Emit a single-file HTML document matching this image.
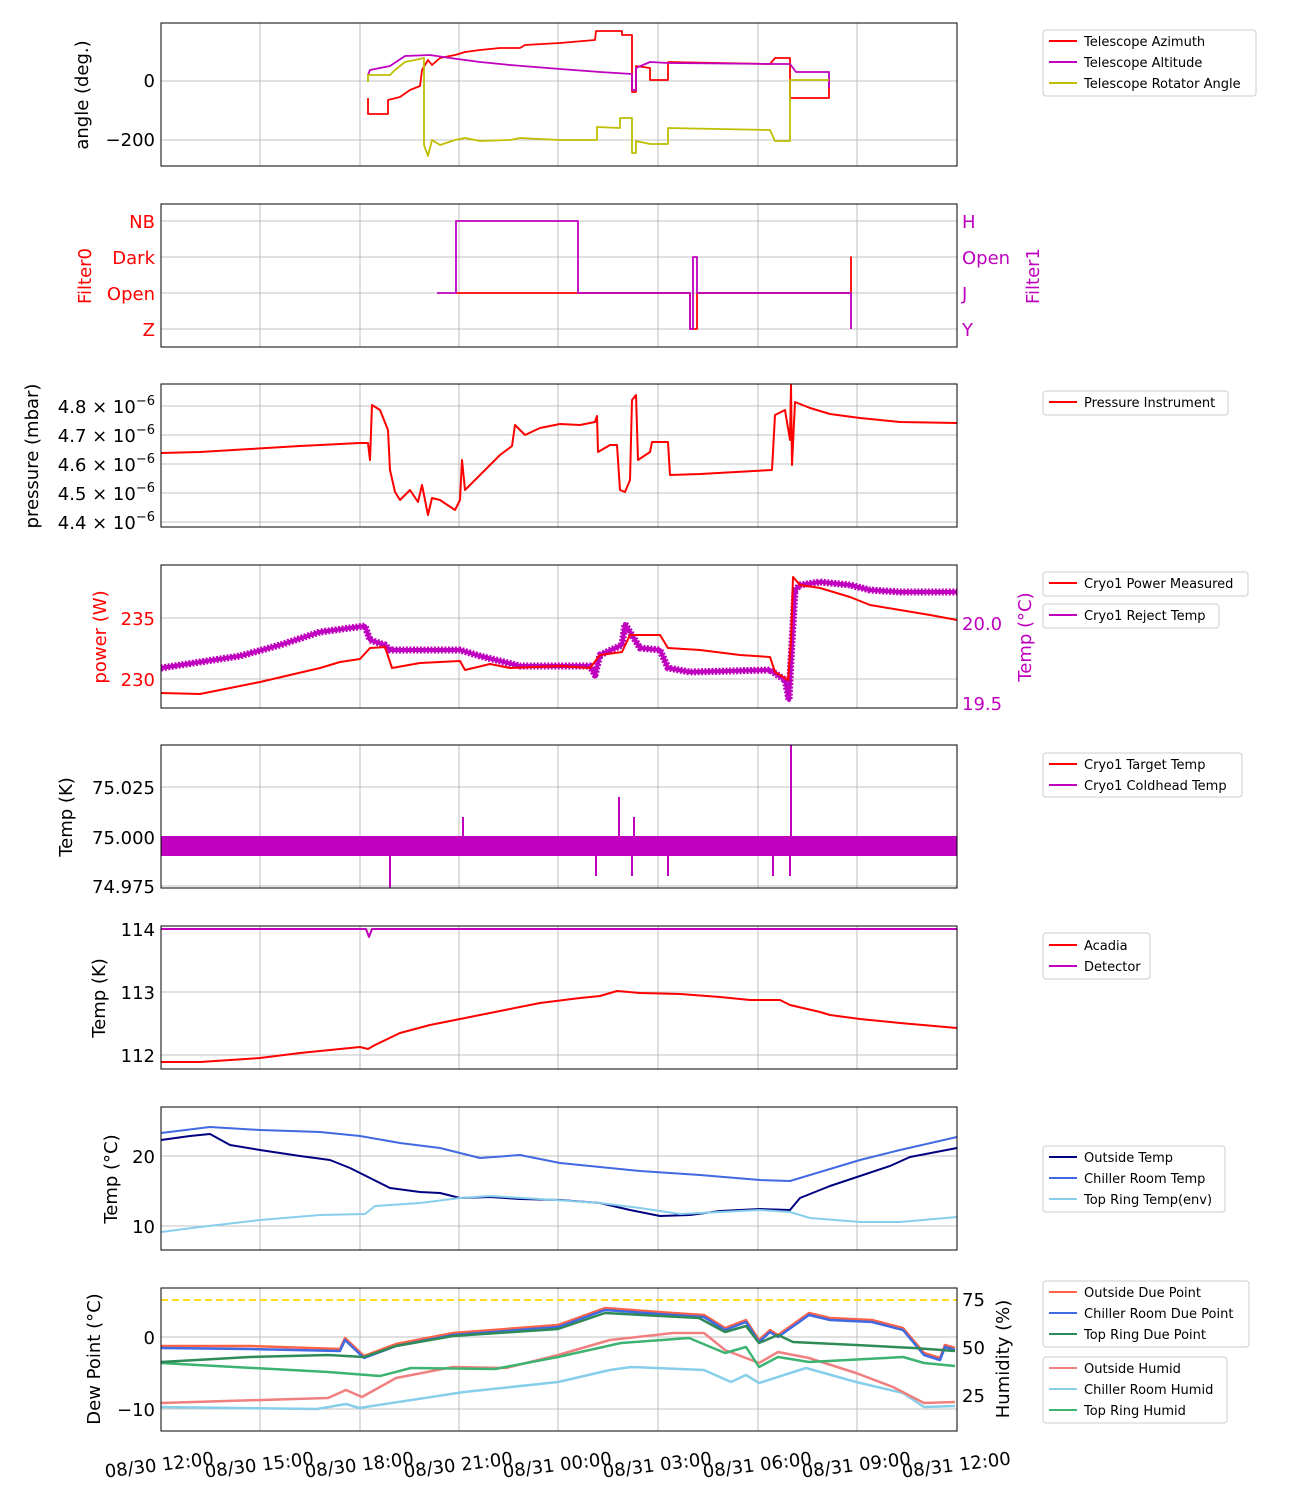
<!DOCTYPE html>
<html><head><meta charset="utf-8"><style>
body{margin:0;background:#fff}
svg{display:block;font-family:"DejaVu Sans","Liberation Sans",sans-serif}
.ax{fill:none;stroke:#000;stroke-width:1}
.g{stroke:#b0b0b0;stroke-width:0.8}
.t{font-size:18px}
.l{font-size:13px}
.lb{fill:#fff;stroke:#ccc;stroke-width:1;rx:3}
polyline{fill:none;stroke-linejoin:round}
</style></head><body>
<svg width="1300" height="1500" viewBox="0 0 1300 1500" xmlns="http://www.w3.org/2000/svg">
<defs>
<g id="vg"><path class="g" d="M260,0V143M360,0V143M459,0V143M558,0V143M658,0V143M758,0V143M857,0V143"/></g>
</defs>

<!-- Panel 1 -->
<g transform="translate(0,23)"><use href="#vg"/></g>
<path class="g" d="M161,81H957M161,140H957"/>
<polyline stroke="#ff0000" stroke-width="1.8" points="368,98 368,114 388,114 388,100 400,97 410,90 420,86 422,70 428,60 432,65 440,58 455,55 465,52 480,50 500,48 520,48 525,45 560,43 595,40 596,31 622,31 622,35 632,35 632,92 636,92 636,66 650,68 650,80 668,80 668,62 770,64 775,58 790,58 790,98 829,98 829,80"/>
<polyline stroke="#bf00bf" stroke-width="1.8" points="368,75 370,70 390,66 405,56 430,55 450,58 480,62 510,65 560,69 600,72 632,74 632,90 636,90 636,68 650,62 668,63 775,64 790,64 796,72 829,72 829,88"/>
<polyline stroke="#bfbf00" stroke-width="1.8" points="368,82 368,75 390,75 395,70 405,62 415,60 424,58 424,145 428,156 432,140 440,145 455,140 465,138 480,141 510,140 520,138 560,140 597,140 597,127 620,128 620,118 632,118 632,153 636,153 636,141 650,144 668,144 668,128 770,130 775,141 790,141 790,80 829,80"/>
<rect class="ax" x="161" y="23" width="796" height="143"/>
<text class="t" x="155" y="87" text-anchor="end">0</text>
<text class="t" x="155" y="146" text-anchor="end">−200</text>
<text class="t" transform="translate(88,95) rotate(-90)" text-anchor="middle">angle (deg.)</text>
<rect class="lb" x="1043" y="30" width="213" height="66"/>
<path stroke="#ff0000" stroke-width="2" d="M1049,41H1077"/><text class="l" x="1084" y="46">Telescope Azimuth</text>
<path stroke="#bf00bf" stroke-width="2" d="M1049,62H1077"/><text class="l" x="1084" y="67">Telescope Altitude</text>
<path stroke="#bfbf00" stroke-width="2" d="M1049,83H1077"/><text class="l" x="1084" y="88">Telescope Rotator Angle</text>

<!-- Panel 2 -->
<g transform="translate(0,204)"><use href="#vg"/></g>
<path class="g" d="M161,221H957M161,257H957M161,293H957M161,329H957"/>
<polyline stroke="#ff0000" stroke-width="1.8" points="456,293 690,293 690,329 697,329 697,293 851,293 851,257 851,293"/>
<polyline stroke="#bf00bf" stroke-width="1.8" points="437,293 456,293 456,221 578,221 578,293 690,293 690,329 693,329 693,257 697,257 697,293 851,293 851,329"/>
<rect class="ax" x="161" y="204" width="796" height="143"/>
<g class="t" fill="#ff0000" text-anchor="end"><text x="155" y="228">NB</text><text x="155" y="264">Dark</text><text x="155" y="300">Open</text><text x="155" y="336">Z</text></g>
<g class="t" fill="#bf00bf"><text x="962" y="228">H</text><text x="962" y="264">Open</text><text x="962" y="300">J</text><text x="962" y="336">Y</text></g>
<text class="t" fill="#ff0000" transform="translate(91,276) rotate(-90)" text-anchor="middle">Filter0</text>
<text class="t" fill="#bf00bf" transform="translate(1039,276) rotate(-90)" text-anchor="middle">Filter1</text>

<!-- Panel 3 -->
<g transform="translate(0,384)"><use href="#vg"/></g>
<path class="g" d="M161,406H957M161,435H957M161,464H957M161,493H957M161,522H957"/>
<polyline stroke="#ff0000" stroke-width="2" points="161,453 200,452 250,449 300,446 360,443 368,443 370,460 372,405 380,410 388,430 390,470 395,492 400,500 410,490 418,502 422,485 428,515 432,498 440,500 455,510 460,500 462,460 465,490 475,480 490,465 500,455 512,446 515,425 525,435 540,428 560,424 580,425 595,422 597,416 598,452 610,445 617,445 620,490 625,492 630,480 632,400 636,395 638,460 650,452 652,442 668,442 670,475 700,474 772,470 775,415 785,410 790,440 791,385 792,465 795,402 810,408 830,414 860,418 900,422 957,423"/>
<rect class="ax" x="161" y="384" width="796" height="143"/>
<g class="t" text-anchor="end">
<text x="155" y="413">4.8 × 10<tspan font-size="13" dy="-8">−6</tspan></text>
<text x="155" y="442">4.7 × 10<tspan font-size="13" dy="-8">−6</tspan></text>
<text x="155" y="471">4.6 × 10<tspan font-size="13" dy="-8">−6</tspan></text>
<text x="155" y="500">4.5 × 10<tspan font-size="13" dy="-8">−6</tspan></text>
<text x="155" y="529">4.4 × 10<tspan font-size="13" dy="-8">−6</tspan></text>
</g>
<text class="t" transform="translate(38,456) rotate(-90)" text-anchor="middle">pressure (mbar)</text>
<rect class="lb" x="1043" y="391" width="185" height="24"/>
<path stroke="#ff0000" stroke-width="2" d="M1049,402H1077"/><text class="l" x="1084" y="407">Pressure Instrument</text>

<!-- Panel 4 -->
<g transform="translate(0,565)"><use href="#vg"/></g>
<path class="g" d="M161,618H957M161,679H957"/>
<polyline stroke="#bf00bf" stroke-width="7" stroke-dasharray="2,1.5" points="161,668 200,662 240,656 280,645 320,632 365,626 370,640 385,645 390,650 420,650 460,650 480,656 520,666 590,666 595,675 600,655 622,645 625,624 635,640 640,648 660,650 668,668 690,672 770,670 785,680 789,700 791,660 795,590 800,585 820,582 850,585 870,590 900,592 957,592"/>
<polyline stroke="#bf00bf" stroke-width="4" points="161,668 200,662 240,656 280,645 320,632 365,626 370,640 385,645 390,650 420,650 460,650 480,656 520,666 590,666 595,675 600,655 622,645 625,624 635,640 640,648 660,650 668,668 690,672 770,670 785,680 789,700 791,660 795,590 800,585 820,582 850,585 870,590 900,592 957,592"/>
<polyline stroke="#ff0000" stroke-width="2" points="161,693 200,694 230,688 260,682 290,675 320,668 340,662 360,659 370,648 385,647 392,668 420,663 460,661 465,670 490,664 510,668 560,666 590,668 600,655 622,652 630,635 660,635 668,648 700,650 740,655 770,657 775,672 788,680 791,640 793,577 800,585 820,588 850,597 870,605 900,610 930,615 957,620"/>
<rect class="ax" x="161" y="565" width="796" height="143"/>
<g class="t" fill="#ff0000" text-anchor="end"><text x="155" y="625">235</text><text x="155" y="686">230</text></g>
<g class="t" fill="#bf00bf"><text x="962" y="630">20.0</text><text x="962" y="710">19.5</text></g>
<text class="t" fill="#ff0000" transform="translate(106,637) rotate(-90)" text-anchor="middle">power (W)</text>
<text class="t" fill="#bf00bf" transform="translate(1031,637) rotate(-90)" text-anchor="middle">Temp (°C)</text>
<rect class="lb" x="1043" y="572" width="205" height="24"/>
<path stroke="#ff0000" stroke-width="2" d="M1049,583H1077"/><text class="l" x="1084" y="588">Cryo1 Power Measured</text>
<rect class="lb" x="1043" y="604" width="176" height="24"/>
<path stroke="#bf00bf" stroke-width="2" d="M1049,615H1077"/><text class="l" x="1084" y="620">Cryo1 Reject Temp</text>

<!-- Panel 5 -->
<g transform="translate(0,745)"><use href="#vg"/></g>
<path class="g" d="M161,787H957M161,837H957M161,886H957"/>
<rect x="161" y="836" width="796" height="20" fill="#bf00bf"/>
<path stroke="#bf00bf" stroke-width="2" d="M390,850V888M463,840V817M596,850V876M619,840V797M632,850V876M634,840V817M668,850V876M773,850V876M790,850V876M791,840V745"/>
<rect class="ax" x="161" y="745" width="796" height="143"/>
<g class="t" text-anchor="end"><text x="155" y="794">75.025</text><text x="155" y="844">75.000</text><text x="155" y="893">74.975</text></g>
<text class="t" transform="translate(72,817) rotate(-90)" text-anchor="middle">Temp (K)</text>
<rect class="lb" x="1043" y="753" width="199" height="44"/>
<path stroke="#ff0000" stroke-width="2" d="M1049,764H1077"/><text class="l" x="1084" y="769">Cryo1 Target Temp</text>
<path stroke="#bf00bf" stroke-width="2" d="M1049,785H1077"/><text class="l" x="1084" y="790">Cryo1 Coldhead Temp</text>

<!-- Panel 6 -->
<g transform="translate(0,926)"><use href="#vg"/></g>
<path class="g" d="M161,929H957M161,992H957M161,1055H957"/>
<polyline stroke="#bf00bf" stroke-width="2" points="161,929 366,929 369,937 372,929 957,929"/>
<polyline stroke="#ff0000" stroke-width="2" points="161,1062 200,1062 260,1058 300,1053 360,1047 368,1049 375,1045 400,1033 430,1025 460,1019 500,1011 540,1003 580,998 600,996 617,991 640,993 680,994 720,997 750,1000 780,1000 790,1005 820,1012 830,1015 860,1019 900,1023 957,1028"/>
<rect class="ax" x="161" y="926" width="796" height="143"/>
<g class="t" text-anchor="end"><text x="155" y="936">114</text><text x="155" y="999">113</text><text x="155" y="1062">112</text></g>
<text class="t" transform="translate(105,998) rotate(-90)" text-anchor="middle">Temp (K)</text>
<rect class="lb" x="1043" y="933" width="107" height="46"/>
<path stroke="#ff0000" stroke-width="2" d="M1049,945H1077"/><text class="l" x="1084" y="950">Acadia</text>
<path stroke="#bf00bf" stroke-width="2" d="M1049,966H1077"/><text class="l" x="1084" y="971">Detector</text>

<!-- Panel 7 -->
<g transform="translate(0,1107)"><use href="#vg"/></g>
<path class="g" d="M161,1156H957M161,1226H957"/>
<polyline stroke="#000080" stroke-width="2" points="161,1140 190,1136 210,1134 230,1145 260,1150 300,1156 330,1160 350,1168 370,1178 390,1188 420,1192 440,1193 460,1198 490,1197 520,1199 560,1200 600,1203 630,1210 660,1216 690,1215 720,1211 760,1209 790,1210 800,1198 830,1186 860,1176 890,1166 910,1157 957,1148"/>
<polyline stroke="#4169e1" stroke-width="2" points="161,1133 210,1127 260,1130 320,1132 360,1136 400,1143 440,1148 480,1158 520,1155 560,1163 600,1167 640,1171 700,1175 760,1180 790,1181 820,1172 860,1160 900,1150 957,1137"/>
<polyline stroke="#87ceeb" stroke-width="2" points="161,1232 200,1227 260,1220 320,1215 365,1214 375,1206 420,1203 460,1198 490,1196 540,1199 600,1203 640,1208 680,1214 720,1212 760,1210 790,1212 810,1218 860,1222 900,1222 957,1217"/>
<rect class="ax" x="161" y="1107" width="796" height="143"/>
<g class="t" text-anchor="end"><text x="155" y="1163">20</text><text x="155" y="1233">10</text></g>
<text class="t" transform="translate(117,1179) rotate(-90)" text-anchor="middle">Temp (°C)</text>
<rect class="lb" x="1043" y="1146" width="182" height="66"/>
<path stroke="#000080" stroke-width="2" d="M1049,1157H1077"/><text class="l" x="1084" y="1162">Outside Temp</text>
<path stroke="#4169e1" stroke-width="2" d="M1049,1178H1077"/><text class="l" x="1084" y="1183">Chiller Room Temp</text>
<path stroke="#87ceeb" stroke-width="2" d="M1049,1199H1077"/><text class="l" x="1084" y="1204">Top Ring Temp(env)</text>

<!-- Panel 8 -->
<g transform="translate(0,1288)"><use href="#vg"/></g>
<path class="g" d="M161,1337H957M161,1409H957"/>
<path stroke="#ffd700" stroke-width="1.8" stroke-dasharray="7,4" d="M161,1300H957"/>
<polyline stroke="#87ceeb" stroke-width="2.5" points="161,1407 317,1409 346,1404 359,1408 464,1392 558,1382 610,1370 631,1367 704,1370 731,1382 746,1375 759,1383 806,1368 856,1382 903,1393 924,1407 955,1406"/>
<polyline stroke="#f08080" stroke-width="2.5" points="161,1403 328,1398 346,1390 362,1397 396,1378 453,1367 506,1368 558,1355 610,1340 673,1333 704,1333 725,1350 759,1363 778,1352 809,1358 856,1373 893,1387 924,1403 955,1402"/>
<polyline stroke="#3cb371" stroke-width="2.5" points="161,1363 328,1372 380,1376 411,1368 495,1369 558,1357 621,1343 689,1338 725,1353 746,1347 759,1367 778,1357 809,1362 903,1357 924,1363 955,1366"/>
<polyline stroke="#ff6347" stroke-width="2.5" points="161,1346 250,1346 340,1349 345,1338 364,1356 396,1344 453,1333 558,1325 605,1308 673,1313 704,1315 725,1328 746,1320 759,1340 770,1330 778,1335 809,1313 830,1318 872,1320 903,1328 924,1353 940,1358 945,1345 955,1348"/>
<polyline stroke="#4169e1" stroke-width="2.5" points="161,1348 250,1349 340,1351 345,1340 364,1358 396,1346 453,1335 558,1327 605,1310 673,1315 704,1317 725,1330 746,1322 759,1342 770,1332 778,1337 809,1315 830,1320 872,1322 903,1330 924,1355 940,1360 945,1347 955,1350"/>
<polyline stroke="#2e8b57" stroke-width="2.5" points="161,1362 250,1357 328,1355 364,1357 396,1346 453,1336 558,1329 605,1313 699,1318 725,1332 746,1326 759,1343 778,1335 793,1342 856,1345 914,1348 955,1351"/>
<rect class="ax" x="161" y="1288" width="796" height="143"/>
<g class="t" text-anchor="end"><text x="155" y="1344">0</text><text x="155" y="1416">−10</text></g>
<g class="t"><text x="962" y="1306">75</text><text x="962" y="1354">50</text><text x="962" y="1402">25</text></g>
<text class="t" transform="translate(100,1359) rotate(-90)" text-anchor="middle">Dew Point (°C)</text>
<text class="t" transform="translate(1009,1359) rotate(-90)" text-anchor="middle">Humidity (%)</text>
<rect class="lb" x="1043" y="1281" width="206" height="66"/>
<path stroke="#ff6347" stroke-width="2" d="M1049,1292H1077"/><text class="l" x="1084" y="1297">Outside Due Point</text>
<path stroke="#4169e1" stroke-width="2" d="M1049,1313H1077"/><text class="l" x="1084" y="1318">Chiller Room Due Point</text>
<path stroke="#2e8b57" stroke-width="2" d="M1049,1334H1077"/><text class="l" x="1084" y="1339">Top Ring Due Point</text>
<rect class="lb" x="1043" y="1357" width="184" height="66"/>
<path stroke="#f08080" stroke-width="2" d="M1049,1368H1077"/><text class="l" x="1084" y="1373">Outside Humid</text>
<path stroke="#87ceeb" stroke-width="2" d="M1049,1389H1077"/><text class="l" x="1084" y="1394">Chiller Room Humid</text>
<path stroke="#3cb371" stroke-width="2" d="M1049,1410H1077"/><text class="l" x="1084" y="1415">Top Ring Humid</text>

<!-- x tick labels -->
<g class="t" text-anchor="middle">
<text transform="translate(160,1471) rotate(-7)">08/30 12:00</text>
<text transform="translate(260,1471) rotate(-7)">08/30 15:00</text>
<text transform="translate(360,1471) rotate(-7)">08/30 18:00</text>
<text transform="translate(459,1471) rotate(-7)">08/30 21:00</text>
<text transform="translate(558,1471) rotate(-7)">08/31 00:00</text>
<text transform="translate(658,1471) rotate(-7)">08/31 03:00</text>
<text transform="translate(758,1471) rotate(-7)">08/31 06:00</text>
<text transform="translate(857,1471) rotate(-7)">08/31 09:00</text>
<text transform="translate(957,1471) rotate(-7)">08/31 12:00</text>
</g>
</svg>
</body></html>
